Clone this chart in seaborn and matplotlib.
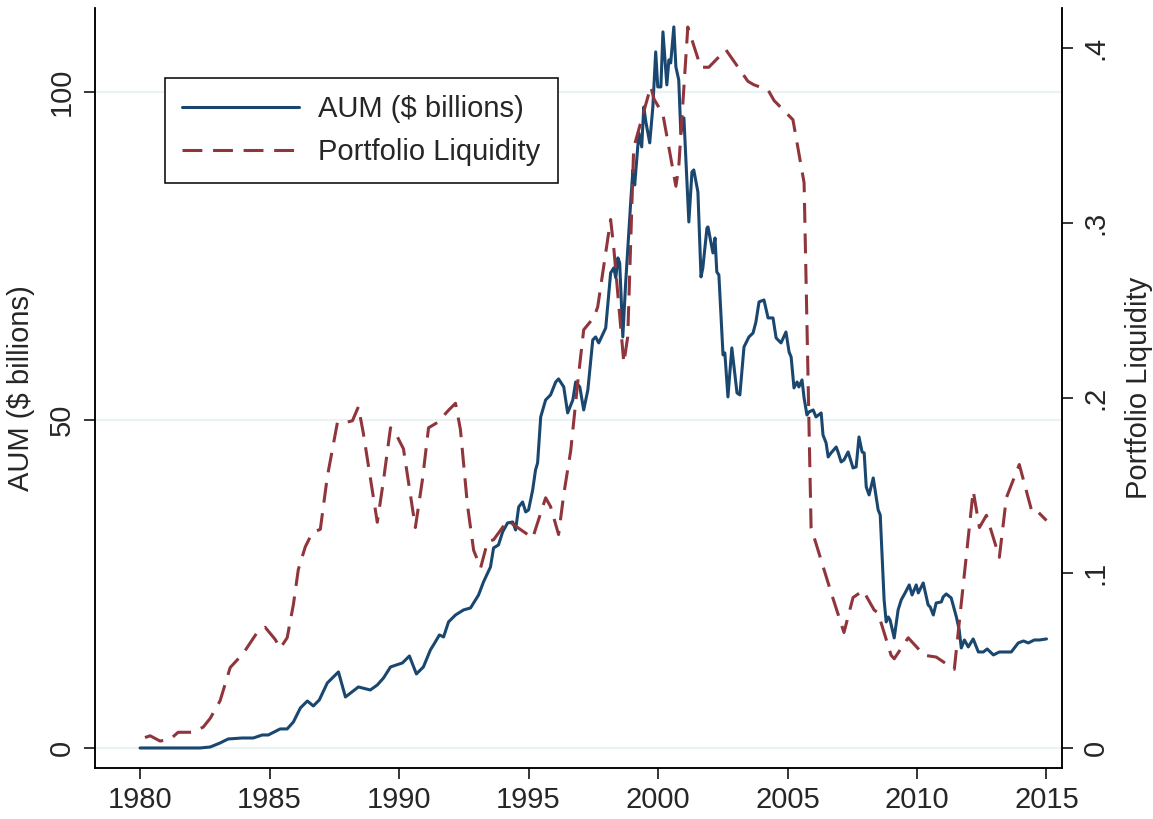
import matplotlib
matplotlib.use("Agg")
import matplotlib.pyplot as plt
import seaborn as sns

# AUM ($ billions)
aum_year = [1980.00, 1982.32, 1982.71, 1983.09, 1983.40, 1983.94, 1984.37, 1984.72, 1984.95, 1985.41,
            1985.68, 1985.92, 1986.19, 1986.46, 1986.69, 1986.92, 1987.23, 1987.66, 1987.93, 1988.43,
            1988.89, 1989.16, 1989.40, 1989.67, 1990.13, 1990.40, 1990.67, 1990.94, 1991.10, 1991.21,
            1991.33, 1991.56, 1991.72, 1991.91, 1992.18, 1992.49, 1992.76, 1993.07, 1993.26, 1993.53,
            1993.65, 1993.84, 1994.00, 1994.19, 1994.39, 1994.50, 1994.62, 1994.77, 1994.89, 1995.00,
            1995.16, 1995.27, 1995.35, 1995.47, 1995.66, 1995.85, 1996.05, 1996.16, 1996.36, 1996.51,
            1996.71, 1996.82, 1996.98, 1997.13, 1997.29, 1997.48, 1997.59, 1997.71, 1997.98, 1998.17,
            1998.29, 1998.37, 1998.45, 1998.52, 1998.64, 1998.75, 1998.95, 1999.03, 1999.10, 1999.26,
            1999.37, 1999.45, 1999.53, 1999.68, 1999.80, 1999.91, 1999.99, 2000.11, 2000.19, 2000.34,
            2000.42, 2000.49, 2000.61, 2000.69, 2000.80, 2000.88, 2001.00, 2001.19, 2001.31, 2001.38,
            2001.54, 2001.66, 2001.73, 2001.89, 2001.93, 2002.12, 2002.20, 2002.27, 2002.35, 2002.51,
            2002.58, 2002.70, 2002.85, 2003.05, 2003.16, 2003.32, 2003.51, 2003.67, 2003.78, 2003.90,
            2004.09, 2004.25, 2004.44, 2004.56, 2004.75, 2004.94, 2005.06, 2005.14, 2005.25, 2005.37,
            2005.44, 2005.56, 2005.64, 2005.75, 2005.83, 2005.99, 2006.10, 2006.30, 2006.37, 2006.49,
            2006.57, 2006.68, 2006.88, 2006.95, 2007.07, 2007.18, 2007.34, 2007.53, 2007.65, 2007.76,
            2007.88, 2007.96, 2008.04, 2008.15, 2008.31, 2008.50, 2008.58, 2008.73, 2008.81, 2008.89,
            2008.96, 2009.12, 2009.27, 2009.39, 2009.54, 2009.70, 2009.81, 2009.97, 2010.05, 2010.24,
            2010.43, 2010.51, 2010.63, 2010.74, 2010.94, 2011.01, 2011.13, 2011.32, 2011.52, 2011.63,
            2011.71, 2011.83, 2011.98, 2012.17, 2012.37, 2012.56, 2012.71, 2012.95, 2013.18, 2013.41,
            2013.64, 2013.91, 2014.11, 2014.30, 2014.53, 2014.73, 2015.00]
aum_bn = [0.00, 0.00, 0.15, 0.76, 1.37, 1.52, 1.52, 1.98, 1.98, 2.90,
          2.90, 3.96, 6.10, 7.16, 6.40, 7.32, 9.91, 11.59, 7.77, 9.30,
          8.84, 9.60, 10.67, 12.35, 12.96, 14.02, 11.28, 12.35, 13.87, 14.94,
          15.70, 17.23, 16.92, 19.21, 20.27, 21.04, 21.34, 23.32, 25.30, 27.59,
          30.49, 30.95, 32.93, 34.30, 34.45, 33.23, 36.74, 37.50, 35.98, 36.28,
          39.33, 42.38, 43.45, 50.46, 53.05, 53.81, 55.79, 56.25, 55.03, 51.07,
          53.05, 55.79, 55.03, 51.52, 54.57, 62.20, 62.65, 61.74, 64.02, 72.41,
          73.17, 71.65, 74.70, 73.93, 62.65, 70.88, 83.54, 88.11, 85.82, 93.75,
          91.62, 97.71, 95.43, 92.23, 97.71, 106.10, 100.76, 100.76, 109.15, 101.07,
          104.88, 104.42, 109.91, 103.81, 101.83, 93.75, 96.04, 80.18, 87.80, 88.11,
          84.76, 71.80, 73.17, 79.27, 79.42, 75.46, 77.74, 72.56, 72.10, 59.91,
          60.21, 53.51, 60.98, 54.12, 53.81, 61.13, 62.65, 63.26, 64.94, 67.99,
          68.29, 65.55, 65.55, 62.50, 61.74, 63.41, 60.37, 59.60, 54.88, 55.79,
          55.03, 56.10, 53.35, 50.76, 51.22, 51.52, 50.46, 51.07, 47.71, 46.49,
          44.36, 44.97, 45.88, 45.12, 43.60, 43.90, 45.12, 42.68, 42.84, 47.41,
          45.12, 44.97, 39.79, 38.57, 41.16, 36.28, 35.52, 22.56, 19.21, 19.97,
          19.51, 16.77, 21.04, 22.56, 23.63, 24.85, 23.32, 24.85, 23.63, 25.15,
          21.80, 21.49, 20.27, 22.10, 22.26, 23.02, 23.48, 22.87, 19.97, 17.99,
          15.24, 16.46, 15.40, 16.62, 14.63, 14.63, 15.09, 14.18, 14.63, 14.63,
          14.63, 16.01, 16.31, 16.01, 16.46, 16.46, 16.62]

# portfolio liquidity (right axis)
liq_year = [1980.19, 1980.39, 1980.77, 1981.16, 1981.47, 1982.05, 1982.44, 1982.71, 1983.09, 1983.48,
            1983.98, 1984.52, 1984.83, 1985.22, 1985.41, 1985.68, 1985.92, 1986.11, 1986.38, 1986.65,
            1986.96, 1987.23, 1987.62, 1987.93, 1988.20, 1988.43, 1988.62, 1989.16, 1989.40, 1989.67,
            1989.86, 1990.17, 1990.63, 1990.90, 1991.14, 1991.48, 1991.91, 1992.18, 1992.37, 1992.64,
            1992.88, 1993.15, 1993.42, 1993.65, 1994.19, 1994.58, 1995.16, 1995.66, 1995.85, 1996.16,
            1996.36, 1996.63, 1996.90, 1997.13, 1997.52, 1997.67, 1998.17, 1998.29, 1998.68, 1998.83,
            1999.06, 1999.72, 1999.84, 2000.19, 2000.69, 2000.80, 2001.15, 2001.65, 2001.96, 2002.62,
            2003.47, 2003.70, 2004.25, 2004.48, 2005.21, 2005.64, 2005.91, 2006.68, 2007.18, 2007.53,
            2007.92, 2008.34, 2008.50, 2009.00, 2009.12, 2009.66, 2010.28, 2010.74, 2011.44, 2012.17,
            2012.41, 2012.68, 2013.18, 2013.45, 2013.95, 2014.42, 2014.53, 2015.00]
liq_val = [0.006, 0.007, 0.004, 0.005, 0.009, 0.009, 0.012, 0.017, 0.027, 0.046,
           0.054, 0.066, 0.069, 0.062, 0.057, 0.063, 0.082, 0.102, 0.115, 0.123,
           0.125, 0.155, 0.186, 0.186, 0.187, 0.195, 0.180, 0.129, 0.153, 0.183,
           0.180, 0.171, 0.126, 0.153, 0.183, 0.186, 0.193, 0.197, 0.182, 0.139,
           0.113, 0.103, 0.118, 0.119, 0.130, 0.126, 0.120, 0.143, 0.138, 0.122,
           0.145, 0.170, 0.209, 0.239, 0.246, 0.252, 0.302, 0.286, 0.220, 0.235,
           0.343, 0.378, 0.371, 0.362, 0.321, 0.332, 0.412, 0.389, 0.389, 0.399,
           0.381, 0.379, 0.376, 0.370, 0.359, 0.323, 0.126, 0.089, 0.066, 0.086,
           0.090, 0.079, 0.077, 0.053, 0.051, 0.063, 0.053, 0.052, 0.045, 0.147,
           0.126, 0.133, 0.109, 0.143, 0.162, 0.136, 0.137, 0.130]

assert len(aum_year) == len(aum_bn)
assert len(liq_year) == len(liq_val)

x_ticks = [1980, 1985, 1990, 1995, 2000, 2005, 2010, 2015]
left_ticks = [0, 50, 100]
right_ticks = [0, 0.1, 0.2, 0.3, 0.4]
right_labels = ["0", ".1", ".2", ".3", ".4"]

navy = "#1a476f"
maroon = "#90353b"

sns.set_style("white")
plt.rcParams["font.family"] = ["Liberation Sans", "DejaVu Sans"]
fs = 21

fig = plt.figure(figsize=(11.53, 8.19), dpi=100)
ax = fig.add_axes([0.0824, 0.0623, 0.8387, 0.928])
ax2 = ax.twinx()

sns.lineplot(x=aum_year, y=aum_bn, ax=ax, color=navy, lw=2.2,
             estimator=None, sort=False, label="AUM ($ billions)", legend=False)
sns.lineplot(x=liq_year, y=liq_val, ax=ax2, color=maroon, lw=2.2,
             estimator=None, sort=False, label="Portfolio Liquidity", legend=False)
ax2.lines[0].set_dashes([6.5, 3.5])

ax.set_xlim(1978.26, 2015.6)
ax.set_ylim(-3.05, 112.8)
ax2.set_ylim(-0.0114, 0.4229)

ax.set_xticks(x_ticks)
ax.set_yticks(left_ticks)
ax.set_yticklabels([str(t) for t in left_ticks], rotation=90, va="center")
ax2.set_yticks(right_ticks)
ax2.set_yticklabels(right_labels, rotation=90, va="center")

for a in (ax, ax2):
    a.tick_params(labelsize=fs, length=8, width=1.1, direction="out", color="black")
    a.spines["top"].set_visible(False)
    for s in ("left", "bottom", "right"):
        a.spines[s].set_linewidth(1.1)
        a.spines[s].set_color("black")
ax.tick_params(axis="x", bottom=True, pad=5)
ax.tick_params(axis="y", left=True, pad=6)
ax2.tick_params(axis="y", right=True, pad=6)

ax.grid(axis="y", color="#eaf2f3", lw=1.6)
ax.grid(axis="x", visible=False)
ax.set_axisbelow(True)

ax.set_xlabel("")
ax.set_ylabel("AUM ($ billions)", fontsize=fs, labelpad=9)
ax2.set_ylabel("Portfolio Liquidity", fontsize=fs, labelpad=11)

handles = ax.lines[:1] + ax2.lines[:1]
leg = fig.legend(handles, ["AUM ($ billions)", "Portfolio Liquidity"],
                 loc="upper left", bbox_to_anchor=(0.143, 0.905),
                 bbox_transform=fig.transFigure, borderaxespad=0,
                 fontsize=fs, frameon=True, fancybox=False, framealpha=1,
                 edgecolor="black", handlelength=4.0, handletextpad=0.65,
                 borderpad=0.6, labelspacing=0.5)
leg.get_frame().set_linewidth(1.1)

fig.savefig("out.png", dpi=100)
